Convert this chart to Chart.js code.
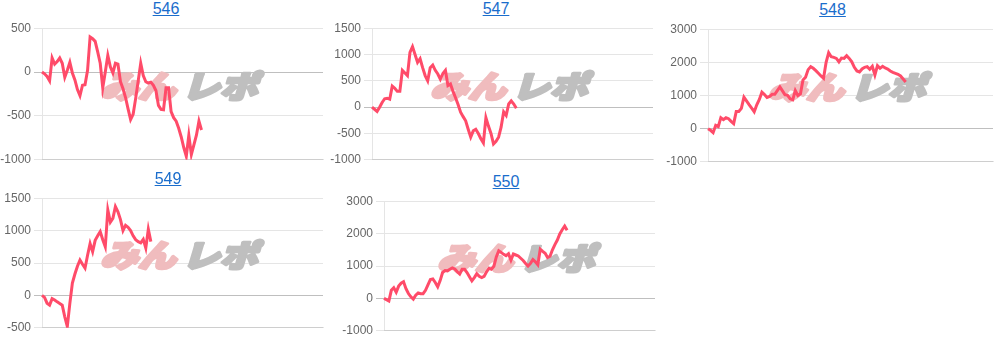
<!DOCTYPE html>
<html>
<head>
<meta charset="utf-8">
<script src="https://cdn.jsdelivr.net/npm/chart.js@4.4.1/dist/chart.umd.min.js"></script>
<style>
  body { margin: 0; background: #fff; width: 1000px; height: 340px; position: relative; overflow: hidden; font-family: Arial, "Liberation Sans", sans-serif; }
  .ttl { position: absolute; text-align: center; font-size: 16px; line-height: 20px; }
  .ttl a { color: #1a6dcc; text-decoration: underline; }
  .box { position: absolute; }
</style>
</head>
<body>
<div id="wrap"></div>
<script>
// machine numbers (chart titles)
const machineNos = ['546', '547', '548', '549', '550'];

// coin difference per sample
const diff546 = [0, -20, -50, -100, 160, 90, 120, 160, 100, -60, 20, 110, -10, -90, -200, -270, -150, -145, 20, 400, 380, 350, 230, 100, -180, 0, 190, 60, -10, 100, 90, -110, -190, -290, -420, -540, -480, -300, -100, 100, -40, -110, -125, -115, -150, -210, -380, -425, -430, -180, -180, -450, -520, -560, -640, -740, -860, -960, -720, -940, -830, -720, -560, -660];
const diff547 = [0, -40, -80, 0, 90, 160, 170, 150, 400, 360, 300, 300, 700, 650, 600, 1040, 1150, 1000, 850, 920, 750, 600, 500, 750, 800, 700, 630, 530, 640, 700, 410, 440, 300, 180, 50, -95, -180, -260, -420, -570, -450, -420, -500, -600, -680, -200, -360, -500, -700, -650, -570, -380, -90, -158, 60, 120, 60, -20];
const diff548 = [0, -50, -120, 100, 60, 330, 270, 330, 300, 220, 150, 520, 520, 610, 950, 840, 725, 620, 510, 720, 880, 1100, 1030, 940, 970, 1037, 1037, 1150, 1260, 1140, 1020, 1007, 900, 870, 1150, 1000, 1050, 1470, 1550, 1780, 1870, 1820, 1750, 1670, 1590, 1520, 2000, 2290, 2170, 2150, 2120, 2014, 2130, 2120, 2200, 2120, 2014, 1850, 1740, 1710, 1800, 1850, 1870, 1790, 1880, 1620, 1900, 1820, 1880, 1830, 1800, 1740, 1700, 1670, 1640, 1590, 1500, 1410];
const diff549 = [0, -30, -120, -150, -50, -70, -100, -125, -150, -330, -480, -124, 190, 330, 450, 546, 480, 420, 620, 800, 675, 850, 920, 984, 860, 750, 1318, 1130, 1189, 1370, 1290, 1170, 1000, 1080, 1050, 1000, 920, 860, 830, 810, 865, 730, 1020, 830];
const diff550 = [0, -40, -80, 250, 330, 190, 380, 470, 515, 300, 150, 50, -20, 100, 170, 145, 145, 250, 420, 580, 600, 490, 360, 550, 800, 860, 850, 900, 940, 910, 820, 750, 900, 900, 800, 670, 540, 640, 760, 680, 640, 680, 820, 930, 900, 990, 1280, 1470, 1420, 1360, 1320, 1380, 1180, 1370, 1340, 1310, 1240, 1170, 1080, 1000, 1080, 1200, 1130, 1040, 1520, 1450, 1390, 1260, 1300, 1500, 1660, 1800, 1990, 2120, 2230, 2100];
const series = [diff546, diff547, diff548, diff549, diff550];

// x categories (sample slots, no tick labels shown)
const slots = Array.from({ length: 112 }, (_, i) => i);

// y axis ranges
const yMin = [-1000, -1000, -1000, -500, -1000];
const yMax = [500, 1500, 3000, 1500, 3000];
const yStep = [500, 500, 1000, 500, 1000];

// panel layout: canvas box + title box
const panels = [
  { x: 0,   y: 18,  w: 328, h: 152, tx: 0,   tw: 332, ty: -1 },
  { x: 330, y: 18,  w: 328, h: 152, tx: 330, tw: 332, ty: -1 },
  { x: 666, y: 19,  w: 332, h: 153, tx: 665, tw: 335, ty: 0 },
  { x: 0,   y: 188, w: 328, h: 150, tx: 0,   tw: 336, ty: 169 },
  { x: 342, y: 191, w: 318, h: 150, tx: 341, tw: 330, ty: 172 }
];

Chart.defaults.font.family = 'Arial, "Liberation Sans", sans-serif';
Chart.defaults.font.size = 12;
Chart.defaults.color = '#666';

// watermark logo behind the line
const logoMark = {
  id: 'logoMark',
  beforeDatasetsDraw(chart) {
    const { ctx, chartArea: { left, right, top, bottom } } = chart;
    const cx = (left + right) / 2;
    const cy = (top + bottom) / 2 - 8;
    ctx.save();
    ctx.font = '900 31px "Noto Sans CJK JP"';
    ctx.textBaseline = 'middle';
    ctx.lineJoin = 'round';
    ctx.lineWidth = 3;
    const w1 = ctx.measureText('みん').width;
    const w2 = ctx.measureText('レポ').width;
    const gap = 5;
    const total = w1 + gap + w2;
    ctx.translate(cx, cy);
    ctx.transform(1.22, 0, -0.3, 1, 0, 0);
    ctx.fillStyle = ctx.strokeStyle = '#f0bcbe';
    ctx.strokeText('みん', -total / 2, 0);
    ctx.fillText('みん', -total / 2, 0);
    ctx.fillStyle = ctx.strokeStyle = '#bfbfbf';
    ctx.strokeText('レポ', -total / 2 + w1 + gap, 0);
    ctx.fillText('レポ', -total / 2 + w1 + gap, 0);
    ctx.restore();
  }
};

const wrap = document.getElementById('wrap');

machineNos.forEach((no, k) => {
  const p = panels[k];

  const t = document.createElement('div');
  t.className = 'ttl';
  t.style.left = p.tx + 'px';
  t.style.top = p.ty + 'px';
  t.style.width = p.tw + 'px';
  t.innerHTML = '<a href="#">' + no + '</a>';
  wrap.appendChild(t);

  const box = document.createElement('div');
  box.className = 'box';
  box.style.left = p.x + 'px';
  box.style.top = p.y + 'px';
  const cv = document.createElement('canvas');
  cv.width = p.w;
  cv.height = p.h;
  box.appendChild(cv);
  wrap.appendChild(box);

  new Chart(cv, {
    type: 'line',
    data: {
      labels: slots,
      datasets: [{
        data: series[k],
        borderColor: 'rgb(255,75,105)',
        borderWidth: 3,
        pointRadius: 0,
        tension: 0,
        fill: false
      }]
    },
    options: {
      responsive: false,
      animation: false,
      layout: { padding: { left: 0, right: 5, top: 0, bottom: 0 } },
      plugins: { legend: { display: false }, tooltip: { enabled: false } },
      scales: {
        x: {
          ticks: { display: false },
          grid: { display: false, drawTicks: false },
          border: { display: true, color: 'rgba(0,0,0,0.1)' }
        },
        y: {
          min: yMin[k],
          max: yMax[k],
          ticks: { stepSize: yStep[k], callback: v => String(v) },
          grid: {
            color: c => (c.tick && c.tick.value === 0) ? 'rgba(0,0,0,0.25)' : 'rgba(0,0,0,0.1)'
          },
          border: { color: 'rgba(0,0,0,0.1)' },
          afterFit(scale) { scale.width = 42; }
        }
      }
    },
    plugins: [logoMark]
  });
});
</script>
</body>
</html>
